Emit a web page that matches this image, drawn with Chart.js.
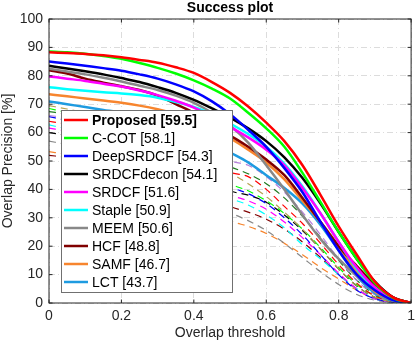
<!DOCTYPE html>
<html>
<head>
<meta charset="utf-8">
<script src="https://cdn.jsdelivr.net/npm/chart.js@4.4.1/dist/chart.umd.min.js"></script>
<style>
  html, body { margin: 0; padding: 0; background: #fff; }
</style>
</head>
<body>
<canvas id="Chart" width="415" height="343"></canvas>
<script>
// overlap thresholds (x axis)
const thresholds = [0, 0.05, 0.1, 0.15, 0.2, 0.25, 0.3, 0.35, 0.4, 0.45, 0.5,
                    0.55, 0.6, 0.65, 0.7, 0.75, 0.8, 0.85, 0.9, 0.95, 1];

// trackers shown in the legend
const trackerNames  = ['Proposed', 'C-COT', 'DeepSRDCF', 'SRDCFdecon', 'SRDCF', 'Staple', 'MEEM', 'HCF', 'SAMF', 'LCT'];
const trackerScores = ['59.5', '58.1', '54.3', '54.1', '51.6', '50.9', '50.6', '48.8', '46.7', '43.7'];
const trackerColors = ['#ff0000', '#00ff00', '#0000ff', '#000000', '#ff00ff', '#00ffff', '#888888', '#800000', '#f7852e', '#1e9be0'];

const proposed   = [88.3, 88.0, 87.7, 87.2, 86.5, 85.6, 84.6, 83.0, 81.0, 77.8, 74.0, 69.2, 63.5, 57.0, 48.5, 38.0, 27.0, 17.0, 7.5, 2.0, 0];
const ccot       = [88.6, 88.3, 87.8, 87.0, 86.0, 84.5, 82.8, 80.8, 78.4, 75.5, 72.0, 67.0, 61.5, 55.0, 45.8, 35.5, 25.0, 15.5, 7.0, 1.8, 0];
const deepSrdcf  = [85.0, 84.3, 83.5, 82.7, 81.8, 80.5, 79.0, 77.0, 74.5, 71.0, 66.5, 61.0, 55.0, 47.5, 39.0, 28.5, 18.5, 10.0, 4.5, 1.0, 0];
const srdcfDecon = [83.5, 82.6, 81.6, 80.5, 79.2, 77.8, 76.0, 74.0, 71.5, 68.5, 65.3, 61.5, 57.0, 51.3, 44.0, 35.0, 25.0, 15.5, 7.5, 2.0, 0];
const srdcf      = [79.8, 79.0, 78.2, 77.2, 76.2, 74.8, 73.2, 71.2, 68.8, 65.5, 62.0, 58.3, 54.0, 48.5, 40.5, 31.5, 21.5, 12.5, 5.5, 1.5, 0];
const staple     = [76.0, 75.3, 74.7, 74.2, 73.8, 73.2, 72.3, 70.8, 69.0, 66.5, 63.2, 59.5, 55.0, 49.0, 41.0, 31.5, 21.5, 12.0, 5.0, 1.2, 0];
const meem       = [82.5, 81.5, 80.5, 79.3, 78.0, 76.5, 75.0, 73.0, 70.5, 67.0, 62.5, 56.5, 48.5, 40.0, 31.0, 22.5, 15.5, 9.5, 4.5, 1.2, 0];
const hcf        = [82.0, 80.8, 79.0, 77.6, 76.3, 75.0, 73.0, 70.0, 67.0, 63.0, 59.0, 55.0, 50.5, 45.0, 37.0, 28.5, 20.0, 13.0, 6.5, 2.0, 0];
const samf       = [73.5, 72.8, 72.0, 71.3, 70.5, 69.5, 68.2, 66.5, 64.3, 61.5, 58.0, 54.0, 49.5, 43.5, 36.0, 28.5, 20.0, 11.0, 4.0, 1.0, 0];
const lct        = [71.0, 70.0, 69.0, 68.0, 67.0, 65.6, 64.0, 62.0, 59.5, 56.5, 53.0, 49.5, 45.0, 40.5, 35.0, 27.5, 18.5, 9.5, 3.5, 0.8, 0];

// other trackers (dashed, not in legend)
const dashedColors = ['#b4a050', '#b57edc', '#1f7a1f', '#ff0000', '#00ff00', '#0000ff', '#000000', '#ff00ff', '#00ffff', '#800000', '#888888', '#f7852e'];
const dOlive   = [69.5, 68.3, 67.0, 65.6, 64.0, 62.3, 60.3, 58.0, 55.0, 51.0, 46.0, 42.0, 37.5, 32.0, 26.0, 19.0, 12.0, 6.0, 2.0, 0.4, 0];
const dLilac   = [66.0, 65.3, 64.5, 63.5, 62.3, 61.0, 59.5, 57.8, 55.8, 53.0, 50.0, 48.5, 44.5, 39.0, 32.0, 24.0, 15.5, 8.0, 3.0, 0.7, 0];
const dDkGreen = [67.4, 66.5, 65.5, 64.3, 62.8, 61.0, 59.0, 56.5, 54.0, 51.0, 48.0, 45.5, 42.0, 37.0, 30.5, 23.0, 15.0, 8.0, 3.0, 0.6, 0];
const dRed     = [64.0, 63.0, 62.0, 60.8, 59.5, 58.0, 56.0, 54.0, 51.5, 49.0, 46.0, 44.5, 40.0, 34.0, 28.0, 21.0, 13.5, 7.0, 2.5, 0.5, 0];
const dGreen   = [68.5, 67.0, 65.3, 63.5, 61.5, 59.2, 56.8, 54.0, 50.8, 46.5, 42.0, 39.5, 36.0, 31.5, 26.0, 19.5, 12.5, 6.5, 2.5, 0.5, 0];
const dBlue    = [65.6, 64.3, 62.8, 61.2, 59.4, 57.4, 55.2, 52.6, 49.6, 45.5, 41.0, 38.5, 35.0, 30.0, 24.0, 17.0, 10.0, 4.5, 1.5, 0.3, 0];
const dBlack   = [60.0, 59.0, 58.0, 56.8, 55.5, 54.0, 52.2, 50.0, 47.0, 43.5, 39.5, 38.0, 35.5, 31.0, 25.5, 19.0, 12.0, 6.0, 2.0, 0.4, 0];
const dMagenta = [61.6, 60.5, 59.3, 58.0, 56.5, 54.8, 52.8, 50.3, 47.2, 43.0, 38.2, 36.0, 33.0, 28.5, 23.0, 17.0, 10.5, 5.0, 1.5, 0.3, 0];
const dCyan    = [62.7, 61.3, 59.8, 58.0, 56.0, 53.8, 51.3, 48.3, 45.0, 41.0, 37.0, 34.5, 31.0, 26.5, 20.5, 15.5, 10.0, 5.0, 1.5, 0.3, 0];
const dDkRed   = [52.0, 51.3, 50.5, 49.5, 48.3, 46.9, 45.2, 43.0, 40.5, 37.5, 34.0, 32.0, 29.5, 26.0, 21.5, 16.0, 10.0, 5.0, 1.5, 0.3, 0];
const dGray    = [57.0, 55.8, 54.5, 53.0, 51.2, 49.2, 47.0, 44.5, 41.5, 37.0, 32.0, 29.0, 25.5, 21.0, 16.0, 11.0, 6.5, 3.0, 1.0, 0.2, 0];
const dOrange  = [53.3, 52.3, 51.0, 49.5, 47.8, 45.8, 43.5, 40.5, 37.0, 33.0, 29.0, 27.0, 24.5, 21.0, 17.0, 12.5, 8.5, 4.5, 1.5, 0.3, 0];

const solidSeries  = [proposed, ccot, deepSrdcf, srdcfDecon, srdcf, staple, meem, hcf, samf, lct];
const dashedSeries = [dOlive, dLilac, dDkGreen, dRed, dGreen, dBlue, dBlack, dMagenta, dCyan, dDkRed, dGray, dOrange];

const FONT = '"Liberation Sans", Arial, sans-serif';

function toPoints(values) {
  return values.map((v, i) => ({x: thresholds[i], y: v}));
}

const datasets = [];
solidSeries.forEach((vals, i) => {
  datasets.push({
    label: trackerNames[i] + ' [' + trackerScores[i] + ']',
    data: toPoints(vals),
    borderColor: trackerColors[i],
    borderWidth: 2.5,
    pointRadius: 0,
    cubicInterpolationMode: 'monotone',
    fill: false
  });
});
dashedSeries.forEach((vals, i) => {
  datasets.push({
    label: '',
    data: toPoints(vals),
    borderColor: dashedColors[i],
    borderWidth: 1.2,
    borderDash: [7, 5],
    pointRadius: 0,
    cubicInterpolationMode: 'monotone',
    fill: false
  });
});

// box round the axes with inward ticks, like matlab
const frame = {
  id: 'frame',
  afterDatasetsDraw(chart) {
    const {ctx, chartArea: a, scales} = chart;
    ctx.save();
    ctx.strokeStyle = '#262626';
    ctx.lineWidth = 1;
    ctx.strokeRect(a.left, a.top, a.right - a.left, a.bottom - a.top);
    ctx.beginPath();
    scales.x.ticks.forEach(t => {
      const px = scales.x.getPixelForValue(t.value);
      ctx.moveTo(px, a.bottom); ctx.lineTo(px, a.bottom - 3.5);
      ctx.moveTo(px, a.top); ctx.lineTo(px, a.top + 3.5);
    });
    scales.y.ticks.forEach(t => {
      const py = scales.y.getPixelForValue(t.value);
      ctx.moveTo(a.left, py); ctx.lineTo(a.left + 3.5, py);
      ctx.moveTo(a.right, py); ctx.lineTo(a.right - 3.5, py);
    });
    ctx.stroke();
    ctx.restore();
  }
};

// legend box inside the plot
const boxLegend = {
  id: 'boxLegend',
  afterDraw(chart) {
    const ctx = chart.ctx;
    ctx.save();
    ctx.fillStyle = '#ffffff';
    ctx.fillRect(61.5, 110.5, 171, 182);
    ctx.strokeStyle = '#707070';
    ctx.lineWidth = 1;
    ctx.strokeRect(61.5, 110.5, 171, 182);
    ctx.textBaseline = 'middle';
    trackerNames.forEach((name, i) => {
      const ds = chart.data.datasets[i];
      const y = 120 + 18 * i;
      ctx.strokeStyle = ds.borderColor;
      ctx.lineWidth = 2.5;
      ctx.beginPath();
      ctx.moveTo(64, y);
      ctx.lineTo(88, y);
      ctx.stroke();
      ctx.fillStyle = '#000';
      ctx.font = (i === 0 ? 'bold ' : '') + '14px ' + FONT;
      ctx.fillText(ds.label, 92, y + 1);
    });
    ctx.restore();
  }
};

new Chart(document.getElementById('Chart'), {
  type: 'line',
  data: { datasets: datasets },
  plugins: [frame, boxLegend],
  options: {
    responsive: false,
    animation: false,
    layout: { padding: { left: 0, right: 0, top: 0, bottom: 0 } },
    plugins: {
      legend: { display: false },
      tooltip: { enabled: false },
      title: {
        display: true,
        text: 'Success plot',
        fullSize: false,
        color: '#000',
        font: { family: FONT, size: 14, weight: 'bold' },
        padding: { top: 0, bottom: 2.2 }
      }
    },
    scales: {
      x: {
        type: 'linear',
        min: 0, max: 1,
        ticks: {
          stepSize: 0.2, color: '#262626', font: { family: FONT, size: 14 }, padding: 0, maxRotation: 0,
          callback: v => String(Number(v.toFixed(1)))
        },
        grid: { color: '#dcdcdc', drawTicks: true, tickLength: 5, tickColor: 'rgba(0,0,0,0)' },
        border: { display: false, dash: [6, 3, 1, 3] },
        title: { display: true, text: 'Overlap threshold', color: '#262626', font: { family: FONT, size: 14 }, padding: { top: 0, bottom: 1 } },
        afterFit(scale) { scale.height = 40; }
      },
      y: {
        min: 0, max: 100,
        ticks: { stepSize: 10, color: '#262626', font: { family: FONT, size: 14 }, padding: 6 },
        grid: { color: '#dcdcdc', drawTicks: false },
        border: { display: false, dash: [6, 3, 1, 3] },
        title: { display: true, text: 'Overlap Precision [%]', color: '#262626', font: { family: FONT, size: 14 }, padding: { top: 0, bottom: 0 } },
        afterFit(scale) { scale.width = 49; }
      }
    }
  }
});
</script>
</body>
</html>
